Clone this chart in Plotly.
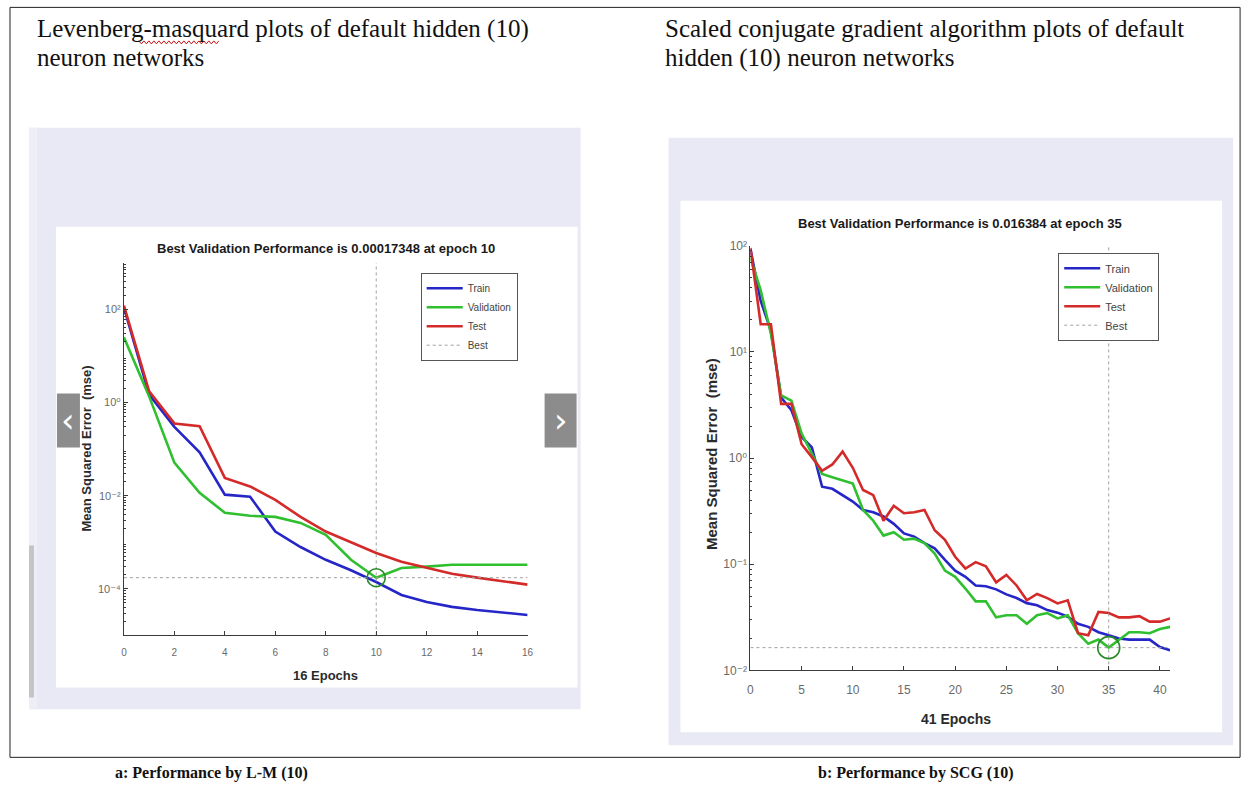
import plotly.graph_objects as go

W, H = 1244, 789

# ---------------- data ----------------
lm_epochs = list(range(17))
lm_train = [110, 1.48, 0.30, 0.085, 0.0105, 0.0095, 0.0017, 0.00079, 0.00042, 0.00025,
            0.00014, 0.000074, 0.000052, 0.000041, 0.000035, 0.000031, 0.0000275]
lm_val = [25, 1.35, 0.051, 0.0115, 0.0043, 0.0037, 0.0035, 0.0026, 0.00145, 0.00042,
          0.00017348, 0.00028, 0.0003, 0.00033, 0.00033, 0.00033, 0.00033]
lm_test = [120, 1.74, 0.355, 0.31, 0.024, 0.0158, 0.0081, 0.0035, 0.0017, 0.001,
           0.00059, 0.00038, 0.00028, 0.00021, 0.000174, 0.000145, 0.000123]
lm_best_epoch = 10
lm_best_val = 0.00017348
lm_n_epochs = 16

scg_epochs = list(range(42))
scg_train = [93.3, 30.2, 15.8, 3.72, 2.82, 1.58, 1.26, 0.537, 0.513, 0.447, 0.389, 0.324,
             0.309, 0.282, 0.240, 0.195, 0.182, 0.158, 0.141, 0.110, 0.087, 0.076, 0.063,
             0.062, 0.058, 0.052, 0.048, 0.043, 0.041, 0.037, 0.035, 0.032, 0.0275, 0.0257,
             0.0229, 0.0214, 0.020, 0.0195, 0.0195, 0.0195, 0.0166, 0.0155]
scg_val = [77.6, 38.0, 14.8, 3.89, 3.47, 1.70, 1.10, 0.708, 0.661, 0.617, 0.575, 0.324,
           0.257, 0.186, 0.200, 0.170, 0.174, 0.158, 0.126, 0.087, 0.076, 0.059, 0.0447,
           0.0447, 0.0316, 0.0331, 0.0331, 0.0275, 0.0331, 0.0347, 0.0309, 0.0331, 0.0224,
           0.0178, 0.0195, 0.016384, 0.0195, 0.0229, 0.0229, 0.0224, 0.0245, 0.0257]
scg_test = [95.5, 18.2, 18.2, 3.24, 3.24, 1.35, 1.02, 0.759, 0.87, 1.15, 0.81, 0.501,
            0.447, 0.257, 0.355, 0.302, 0.309, 0.324, 0.209, 0.170, 0.1175, 0.0912, 0.1047,
            0.0955, 0.0676, 0.0794, 0.0631, 0.0457, 0.0525, 0.0479, 0.0427, 0.0457, 0.0224,
            0.0214, 0.0355, 0.0347, 0.0316, 0.0316, 0.0324, 0.0288, 0.0288, 0.0309]
scg_best_epoch = 35
scg_best_val = 0.016384
scg_n_epochs = 41

lm_title = "Best Validation Performance is 0.00017348 at epoch 10"
scg_title = "Best Validation Performance is 0.016384 at epoch 35"
lm_xlabel = "16 Epochs"
scg_xlabel = "41 Epochs"
ylabel = "Mean Squared Error  (mse)"

lm_xticks = list(range(0, 17, 2))
scg_xticks = list(range(0, 41, 5))
lm_yticks = [1e-4, 1e-2, 1, 1e2]
lm_yticktext = ["10⁻⁴", "10⁻²", "10⁰", "10²"]
scg_yticks = [1e-2, 1e-1, 1, 1e1, 1e2]
scg_yticktext = ["10⁻²", "10⁻¹", "10⁰", "10¹", "10²"]

header_left = ["Levenberg-masquard plots of default hidden (10)", "neuron networks"]
header_right = ["Scaled conjugate gradient algorithm plots of default", "hidden (10) neuron networks"]
caption_left = "a: Performance by L-M (10)"
caption_right = "b: Performance by SCG (10)"

# ---------------- styles ----------------
BLUE = "#2626c8"
GREEN = "#2fbf2f"
RED = "#d42a2a"
BEST = "#a0a0a0"
CIRCLE = "#2a8a2a"
PANEL = "#e9e9f5"
AX = "#3a3a3a"
TICKC = "#6a6a6a"
TICKFONT = "Liberation Sans, DejaVu Sans"

# mapping from target-image pixels to paper fractions (compensates capture inset)
SX, OX = 0.9935, 2.0
SY, OY = 0.983, 6.1


def X(px):
    return (px - OX) / SX / W


def Y(py):
    return 1 - (py - OY) / SY / H


def clampy(v):
    return min(max(v, 0.0005), 0.9995)


fig = go.Figure()


def add_series(epochs, tr, va, te, best_ep, best_val, n_ep, ymin, ymax, xa, ya, leg, circ_size):
    for name, vals, col in [("Train", tr, BLUE), ("Validation", va, GREEN), ("Test", te, RED)]:
        fig.add_trace(go.Scatter(x=epochs, y=vals, mode="lines", name=name,
                                 line=dict(color=col, width=2.6),
                                 xaxis=xa, yaxis=ya, legend=leg))
    fig.add_trace(go.Scatter(x=[0, n_ep, None, best_ep, best_ep],
                             y=[best_val, best_val, None, 10 ** ymin, 10 ** ymax],
                             mode="lines", name="Best",
                             line=dict(color=BEST, width=1, dash="dot"),
                             xaxis=xa, yaxis=ya, legend=leg))
    fig.add_trace(go.Scatter(x=[best_ep], y=[best_val], mode="markers", showlegend=False,
                             marker=dict(symbol="circle-open", size=circ_size,
                                         line=dict(color=CIRCLE, width=1.6), color=CIRCLE),
                             xaxis=xa, yaxis=ya))


add_series(lm_epochs, lm_train, lm_val, lm_test, lm_best_epoch, lm_best_val, lm_n_epochs,
           -5, 3, "x", "y", "legend", 18)
add_series(scg_epochs, scg_train, scg_val, scg_test, scg_best_epoch, scg_best_val, scg_n_epochs,
           -2, 2, "x2", "y2", "legend2", 22)


def minor_vals(lo, hi):
    out = []
    for d in range(lo, hi):
        for k in range(2, 10):
            out.append(k * 10 ** d)
    return out


common_x = dict(showgrid=False, zeroline=False, showline=True, linecolor=AX, linewidth=1,
                ticks="inside", ticklen=4, tickcolor=AX, mirror=False)
common_y = dict(type="log", showgrid=False, zeroline=False, showline=True, linecolor=AX,
                linewidth=1, ticks="inside", ticklen=4, tickcolor=AX, mirror=False)

# pixel geometry of the axes (target-image pixels)
L_x0, L_x1, L_y0, L_y1 = 123, 527, 262, 635
R_x0, R_x1, R_y0, R_y1 = 750, 1170, 245, 670

fig.update_layout(
    autosize=True, margin=dict(l=0, r=0, t=0, b=0),
    paper_bgcolor="white", plot_bgcolor="rgba(0,0,0,0)",
    xaxis=dict(domain=[X(L_x0), X(L_x1)], range=[0, lm_n_epochs],
               tickvals=lm_xticks,
               tickfont=dict(family=TICKFONT, size=10, color=TICKC),
               ticklabelstandoff=8, **common_x),
    yaxis=dict(domain=[Y(L_y1), Y(L_y0)], range=[-5, 3], tickvals=lm_yticks,
               ticktext=lm_yticktext,
               tickfont=dict(family=TICKFONT, size=11, color=TICKC),
               minor=dict(tickvals=minor_vals(-5, 3), ticks="inside", ticklen=2, tickcolor=AX),
               anchor="x", **common_y),
    xaxis2=dict(domain=[X(R_x0), X(R_x1)], range=[0, scg_n_epochs],
                tickvals=scg_xticks,
                tickfont=dict(family=TICKFONT, size=12, color=TICKC),
                ticklabelstandoff=8, anchor="y2", **common_x),
    yaxis2=dict(domain=[Y(R_y1), Y(R_y0)], range=[-2, 2], tickvals=scg_yticks,
                ticktext=scg_yticktext,
                tickfont=dict(family=TICKFONT, size=12, color=TICKC),
                minor=dict(tickvals=minor_vals(-2, 2), ticks="inside", ticklen=2, tickcolor=AX),
                anchor="x2", **common_y),
    legend=dict(x=X(420), y=Y(272), xanchor="left", yanchor="top", bgcolor="white",
                bordercolor="#555", borderwidth=1, itemwidth=36,
                font=dict(family="Liberation Sans Narrow, Liberation Sans", size=10, color="#444"),
                tracegroupgap=0),
    legend2=dict(x=X(1058), y=Y(252), xanchor="left", yanchor="top", bgcolor="white",
                 bordercolor="#555", borderwidth=1, itemwidth=36,
                 font=dict(family="Liberation Sans Narrow, Liberation Sans", size=11, color="#444"),
                 tracegroupgap=0),
    showlegend=True,
)

shapes = []


def rect(x0, y0, x1, y1, fill=None, line=None, lw=0, layer="below"):
    d = dict(type="rect", xref="paper", yref="paper", x0=X(x0), x1=X(x1),
             y0=clampy(Y(y1)), y1=clampy(Y(y0)),
             layer=layer, line=dict(width=lw, color=line or "rgba(0,0,0,0)"))
    if fill:
        d["fillcolor"] = fill
    shapes.append(d)


# outer document border
rect(9, 4, 1240, 757, line="#222", lw=1)
# left screenshot panel
rect(28, 127, 580, 709, fill=PANEL)
rect(28, 127, 36, 709, fill="#eeeef6")
rect(55, 226, 577, 687, fill="white")
rect(28, 545, 33, 697, fill="#c4c4c8")
# right screenshot panel
rect(668, 137, 1233, 745, fill=PANEL)
rect(680, 200, 1222, 732, fill="white")
# navigation buttons (carousel arrows)
rect(56, 393, 79, 447, fill="rgba(120,120,120,0.85)", layer="above")
rect(544, 393, 576, 447, fill="rgba(120,120,120,0.85)", layer="above")

# red spell-check squiggle under "masquard"
pts = []
xx = 138
i = 0
while xx <= 218:
    pts.append((xx, 40 if i % 2 == 0 else 43))
    xx += 2.5
    i += 1
path = "M " + " L ".join(f"{X(a):.5f},{Y(b):.5f}" for a, b in pts)
shapes.append(dict(type="path", xref="paper", yref="paper", path=path,
                   line=dict(color="#d01010", width=1), layer="above"))

fig.update_layout(shapes=shapes)

ann = []


def text(x, y, s, size, family="Liberation Sans", color="#222", bold=False, xanchor="center",
         textangle=0):
    ann.append(dict(x=X(x), y=Y(y), xref="paper", yref="paper", showarrow=False,
                    text=f"<b>{s}</b>" if bold else s, xanchor=xanchor, yanchor="middle",
                    textangle=textangle, font=dict(family=family, size=size, color=color)))


SERIF = "Liberation Serif"
text(34, 28, header_left[0], 25, family=SERIF, color="#111", xanchor="left")
text(34, 57, header_left[1], 25, family=SERIF, color="#111", xanchor="left")
text(662, 28, header_right[0], 25, family=SERIF, color="#111", xanchor="left")
text(662, 57, header_right[1], 25, family=SERIF, color="#111", xanchor="left")
text(211, 773, caption_left, 16, family=SERIF, color="#111", bold=True)
text(916, 773, caption_right, 16, family=SERIF, color="#111", bold=True)

text(325, 248, lm_title, 13, bold=True, color="#1a1a1a")
text(960, 223, scg_title, 13, bold=True, color="#1a1a1a")
text(325, 675, lm_xlabel, 13, bold=True, color="#2a2a2a")
text(956, 719, scg_xlabel, 14, bold=True, color="#2a2a2a")
text(86, 448, ylabel, 13, bold=True, color="#2a2a2a", textangle=-90)
text(711, 453, ylabel, 15, bold=True, color="#2a2a2a", textangle=-90)

# arrows on nav buttons
text(67, 419, "‹", 34, family="DejaVu Sans", color="white")
text(560, 419, "›", 34, family="DejaVu Sans", color="white")

fig.update_layout(annotations=ann)

fig.write_html(
    "out.html",
    default_width="100vw",
    default_height="100vh",
    config={"displayModeBar": False, "responsive": True},
    post_script=(
        "document.documentElement.style.margin='0';"
        "document.body.style.margin='0';"
        "document.body.style.overflow='hidden';"
        "var gd=document.getElementById('{plot_id}');"
        "gd.style.width='100vw';gd.style.height='100vh';"
        "Plotly.Plots.resize(gd);"
    ),
)
